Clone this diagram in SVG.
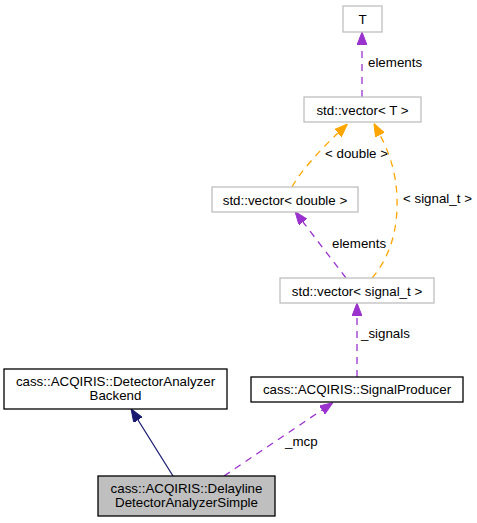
<svg xmlns="http://www.w3.org/2000/svg" width="477" height="523" viewBox="0 0 477 523">
<style>
text{font-family:"Liberation Sans",Arial,sans-serif;font-size:13.33px;fill:#000}
.c{text-anchor:middle}
.g{fill:#fff;stroke:#bfbfbf;stroke-width:1.3}
.b{fill:#fff;stroke:#000;stroke-width:1.3}
.sel{fill:#bfbfbf;stroke:#000;stroke-width:1.3}
.p{fill:none;stroke:#9a32cd;stroke-width:1.3;stroke-dasharray:7,6}
.o{fill:none;stroke:#ffa500;stroke-width:1.3;stroke-dasharray:7,6}
.n{fill:none;stroke:#191970;stroke-width:1.3}
</style>
<defs>
<marker id="ap" markerUnits="userSpaceOnUse" viewBox="0 0 13 10" refX="0" refY="5" markerWidth="13" markerHeight="10" orient="auto"><path d="M0,0L13,5L0,10z" fill="#9a32cd" stroke="#9a32cd"/></marker>
<marker id="ao" markerUnits="userSpaceOnUse" viewBox="0 0 13 10" refX="0" refY="5" markerWidth="13" markerHeight="10" orient="auto"><path d="M0,0L13,5L0,10z" fill="#ffa500" stroke="#ffa500"/></marker>
<marker id="an" markerUnits="userSpaceOnUse" viewBox="0 0 13 10" refX="0" refY="5" markerWidth="13" markerHeight="10" orient="auto"><path d="M0,0L13,5L0,10z" fill="#191970" stroke="#191970"/></marker>
</defs>
<g id="connectors">
<path class="p" d="M362,97L362,45" marker-end="url(#ap)"/>
<text x="368" y="67">elements</text>
<path class="o" d="M292,187C300,172 320,150 338,133" marker-end="url(#ao)"/>
<text x="325" y="158">&lt; double &gt;</text>
<path class="o" d="M372,278C392,255 398,225 397,198C396,170 388,150 380,135" marker-end="url(#ao)"/>
<text x="403" y="203">&lt; signal_t &gt;</text>
<path class="p" d="M346,278L303,222" marker-end="url(#ap)"/>
<text x="332" y="248">elements</text>
<path class="p" d="M357,377L357,316" marker-end="url(#ap)"/>
<text x="361" y="338">_signals</text>
<path class="n" d="M173,476L138,420" marker-end="url(#an)"/>
<path class="p" d="M224,476L322,410" marker-end="url(#ap)"/>
<text x="285" y="446">_mcp</text>
</g>
<g id="node-T"><rect class="g" x="343" y="6" width="39" height="26"/><text class="c" x="362.5" y="24">T</text></g>
<g id="node-vecT"><rect class="g" x="304" y="97" width="117" height="25"/><text class="c" x="362.5" y="114.5">std::vector&lt; T &gt;</text></g>
<g id="node-vecDouble"><rect class="g" x="212" y="187" width="146" height="25"/><text class="c" x="285" y="204.5">std::vector&lt; double &gt;</text></g>
<g id="node-vecSignal"><rect class="g" x="280" y="278" width="154" height="25"/><text class="c" x="357" y="295.5">std::vector&lt; signal_t &gt;</text></g>
<g id="node-SignalProducer"><rect class="b" x="251" y="377" width="212" height="25"/><text class="c" x="357" y="394">cass::ACQIRIS::SignalProducer</text></g>
<g id="node-Backend"><rect class="b" x="4" y="369" width="223" height="40"/><text class="c" x="115.5" y="385.5">cass::ACQIRIS::DetectorAnalyzer</text><text class="c" x="115.5" y="400">Backend</text></g>
<g id="node-Delayline"><rect class="sel" x="98" y="476" width="177" height="40"/><text class="c" x="186.5" y="492.5">cass::ACQIRIS::Delayline</text><text class="c" x="186.5" y="507">DetectorAnalyzerSimple</text></g>
</svg>
